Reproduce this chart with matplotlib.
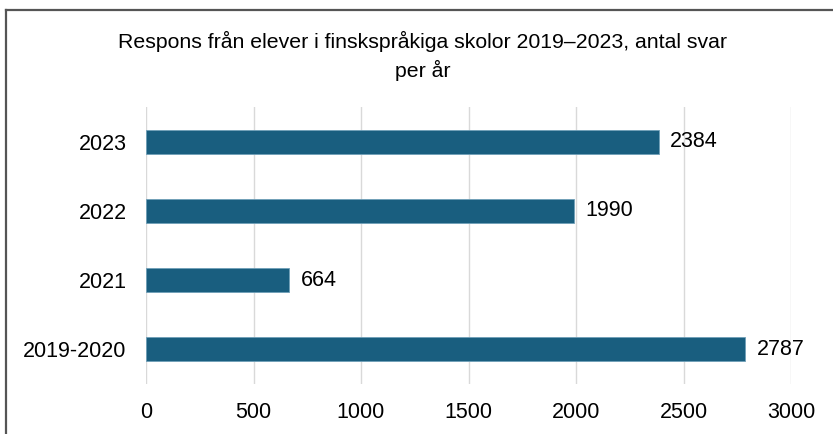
import matplotlib
matplotlib.use("Agg")
import matplotlib.pyplot as plt
from matplotlib.lines import Line2D

categories = ["2019-2020", "2021", "2022", "2023"]
values = [2787, 664, 1990, 2384]
xticks = [0, 500, 1000, 1500, 2000, 2500, 3000]
title = "Respons från elever i finskspråkiga skolor 2019–2023, antal svar\nper år"

plt.rcParams['font.family'] = ['Liberation Sans', 'DejaVu Sans']

fig = plt.figure(figsize=(8.33, 4.34), dpi=100)
ax = fig.add_axes([146/833, 1-384/434, (791-146)/833, (384-107)/434])

FS = 15.5
ypos = list(range(len(categories)))
ax.barh(ypos, values, height=0.35, color="#195e7f", edgecolor="#6f9fb8", linewidth=0.6, zorder=3)
for y, v in zip(ypos, values):
    ax.annotate(str(v), (v, y), xytext=(8.5, 0), textcoords="offset points",
                va="center", ha="left", fontsize=FS, color="#000000")

ax.set_xlim(0, 3000)
ax.set_ylim(-0.5, len(categories)-0.5)
ax.set_yticks(ypos)
ax.set_yticklabels(categories, fontsize=FS)
ax.set_xticks(xticks)
ax.set_xticklabels([str(t) for t in xticks], fontsize=FS)
ax.tick_params(axis='both', length=0)
ax.tick_params(axis='x', pad=13)
ax.tick_params(axis='y', pad=14)
ax.grid(axis='x', color="#d9d9d9", linewidth=1, zorder=0)
for s in ax.spines.values():
    s.set_visible(False)

fig.text(0.5 * (116 + 729) / 833, 1 - 56/434, title, ha="center", va="center",
         fontsize=15.3, linespacing=1.5, color="#000000")

# chart border (top and left)
fig.add_artist(Line2D([6/833, 6/833], [0, 1-10/434], transform=fig.transFigure, color="#555555", linewidth=1.6))
fig.add_artist(Line2D([6/833, 1], [1-10/434, 1-10/434], transform=fig.transFigure, color="#555555", linewidth=1.6))

fig.savefig("out.png", dpi=100)
